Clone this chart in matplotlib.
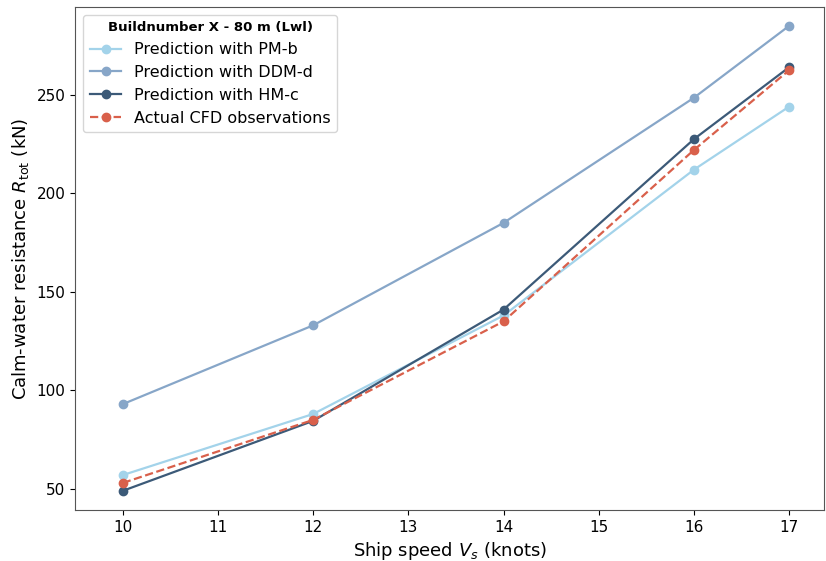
import matplotlib

matplotlib.use("Agg")
import matplotlib.pyplot as plt

speeds = [10, 12, 14, 16, 17]
pm_b = [57, 88, 138, 212, 244]
ddm_d = [93, 133, 185, 248.5, 285]
hm_c = [49, 84.5, 141, 227.5, 264]
cfd = [53, 85, 135, 222, 262.5]

x_ticks = [10, 11, 12, 13, 14, 15, 16, 17]
y_ticks = [50, 100, 150, 200, 250]

COLORS = {
    "pm": "#a3d3ea",
    "ddm": "#87a6c8",
    "hm": "#3c5a78",
    "cfd": "#d9604b",
}

fig = plt.figure(figsize=(8.26, 5.61), dpi=100)
ax = fig.add_axes([0.091, 0.091, 0.907, 0.897])

ax.plot(speeds, pm_b, "-o", color=COLORS["pm"], lw=1.6, ms=6, label="Prediction with PM-b")
ax.plot(speeds, ddm_d, "-o", color=COLORS["ddm"], lw=1.6, ms=6, label="Prediction with DDM-d")
ax.plot(speeds, hm_c, "-o", color=COLORS["hm"], lw=1.6, ms=6, label="Prediction with HM-c")
ax.plot(speeds, cfd, "--o", color=COLORS["cfd"], lw=1.6, ms=6, label="Actual CFD observations")

ax.set_xlim(9.5, 17.37)
ax.set_ylim(39.3, 294.7)
ax.set_xticks(x_ticks)
ax.set_yticks(y_ticks)
ax.tick_params(labelsize=11)
ax.set_xlabel("Ship speed $V_s$ (knots)", fontsize=13)
ax.set_ylabel("Calm-water resistance $R_{\\mathrm{tot}}$ (kN)", fontsize=13)
for sp in ax.spines.values():
    sp.set_color("#555555")

leg = ax.legend(
    title="Buildnumber X - 80 m (Lwl)",
    loc="upper left",
    fontsize=11.5,
    title_fontproperties={"weight": "bold", "size": 9.5},
)

fig.savefig("out.png", dpi=100)
